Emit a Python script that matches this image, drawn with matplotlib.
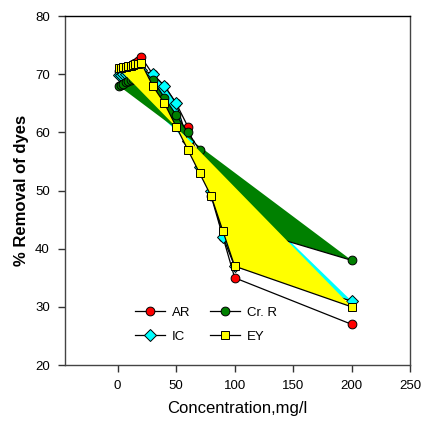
import matplotlib
matplotlib.use("Agg")
import matplotlib.pyplot as plt

plt.rcParams['font.family'] = ['Liberation Sans', 'DejaVu Sans']

# concentration (mg/l)
conc = [1, 3, 5, 7, 9, 11, 13, 15, 17, 20, 30, 40, 50, 60, 70, 80, 90, 100, 200]

# % removal for each dye
ar = [70.6, 70.8, 71.0, 71.2, 71.3, 71.5, 71.7, 71.9, 72.2, 73, 70, 68, 65, 61, 55, 49, 42, 35, 27]
ic = [69.8, 69.9, 70.0, 70.1, 70.2, 70.3, 70.4, 70.5, 70.6, 70.8, 70, 68, 65, 58.5, 54, 50, 42, 37, 31]
crr = [68.0, 68.2, 68.4, 68.6, 68.8, 69.0, 69.2, 69.4, 69.6, 70, 69, 66, 63, 60, 57, 52, 48, 44, 38]
ey = [71.0, 71.1, 71.2, 71.3, 71.4, 71.5, 71.6, 71.7, 71.8, 72.0, 68, 65, 61, 57, 53, 49, 43, 37, 30]

xticks = [0, 50, 100, 150, 200, 250]
yticks = [20, 30, 40, 50, 60, 70, 80]

fig = plt.figure(figsize=(4.22, 4.23), dpi=100)
ax = fig.add_axes([0.154, 0.137, 0.818, 0.825])

# draw order: AR (no fill), IC, Cr. R, EY on top
h_ar, = ax.plot(conc, ar, color='black', lw=0.9, marker='o', ms=6.3,
                mfc='#ff0000', mec='black', mew=0.7, label='AR', zorder=2)

ax.fill(conc, ic, color='#00ffff', lw=0, zorder=3)
h_ic, = ax.plot(conc, ic, color='black', lw=0.9, marker='D', ms=5.8,
                mfc='#00ffff', mec='black', mew=0.7, label='IC', zorder=3)

ax.fill(conc, crr, color='#008000', lw=0, zorder=4)
h_cr, = ax.plot(conc, crr, color='black', lw=0.9, marker='o', ms=6.3,
                mfc='#008000', mec='black', mew=0.7, label='Cr. R', zorder=4)

ax.fill(conc, ey, color='#ffff00', lw=0, zorder=5)
h_ey, = ax.plot(conc, ey, color='black', lw=0.9, marker='s', ms=6,
                mfc='#ffff00', mec='black', mew=0.7, label='EY', zorder=5)

ax.set_xlim(-45, 250)
ax.set_ylim(20, 80)
ax.set_xticks(xticks)
ax.set_yticks(yticks)
ax.tick_params(direction='out', length=5, width=1, labelsize=9.5, color='#333333')
ax.tick_params(axis='x', pad=6)
ax.tick_params(axis='y', pad=6)
for s in ax.spines.values():
    s.set_color('#444444')
    s.set_linewidth(1)
ax.spines['top'].set_color('black')

ax.set_xlabel('Concentration,mg/l', fontsize=12, labelpad=6)
ax.set_ylabel('% Removal of dyes', fontsize=12, fontweight='bold', labelpad=4)

leg = ax.legend(handles=[h_ar, h_ic, h_cr, h_ey], ncol=2, frameon=False,
                fontsize=9.5, handlelength=2.3, handletextpad=0.5,
                columnspacing=1.5, labelspacing=0.9, borderpad=0,
                loc='upper left', bbox_to_anchor=(128 / 422, 1 - 300 / 423),
                bbox_transform=fig.transFigure)
leg.set_zorder(10)

fig.savefig('out.png', dpi=100)
